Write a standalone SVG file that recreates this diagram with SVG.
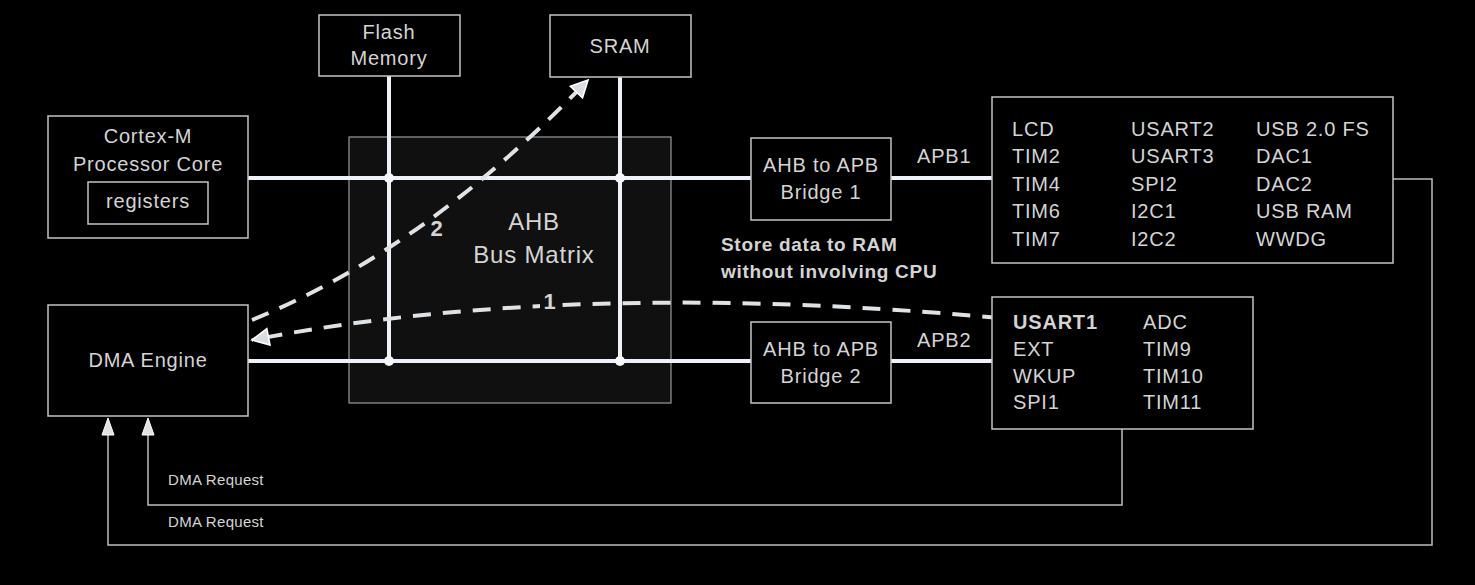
<svg xmlns="http://www.w3.org/2000/svg" width="1475" height="585" viewBox="0 0 1475 585">
<style>
.box{fill:#000;stroke:#c4c4c4;stroke-width:1.5}
.t{font-family:"Liberation Sans",Arial,sans-serif;fill:#d4d4d4;font-size:20px;letter-spacing:0.8px}
.c{text-anchor:middle}
.b{font-weight:bold}
.bus{stroke:#eef2f8;stroke-width:4;fill:none}
.thin{stroke:#bdbdbd;stroke-width:1.5;fill:none}
.dash{stroke:#dfe3e6;stroke-width:4;fill:none;stroke-dasharray:18 12}
.small{font-size:15px;letter-spacing:0.3px}
.head{fill:#e2e2e2;stroke:#ffffff;stroke-width:1}
</style>
<defs>
<marker id="hollow" viewBox="0 0 12 12" refX="11" refY="6" markerWidth="5" markerHeight="5" orient="auto" markerUnits="strokeWidth">
<path d="M1,1 L11,6 L1,11 Z" fill="#d8dde2" stroke="#ffffff" stroke-width="1"/>
</marker>
</defs>
<rect x="0" y="0" width="1475" height="585" fill="#000"/>

<g id="bus-matrix">
<rect x="349" y="137" width="322" height="266" fill="#101010" stroke="#9a9a9a" stroke-width="1.2"/>
<text class="t c" x="534" y="230" style="font-size:24px">AHB</text>
<text class="t c" x="534" y="263" style="font-size:24px">Bus Matrix</text>
</g>

<g id="connectors">
<line class="bus" x1="389" y1="76" x2="389" y2="361"/>
<line class="bus" x1="620" y1="77" x2="620" y2="361"/>
<line class="bus" x1="248" y1="178" x2="752" y2="178"/>
<line class="bus" x1="248" y1="361" x2="752" y2="361"/>
<line class="bus" x1="891" y1="178" x2="993" y2="178"/>
<line class="bus" x1="891" y1="361" x2="993" y2="361"/>
<circle cx="389" cy="178" r="5" fill="#f4f7fb"/>
<circle cx="620" cy="178" r="5" fill="#f4f7fb"/>
<circle cx="389" cy="361" r="5" fill="#f4f7fb"/>
<circle cx="620" cy="361" r="5" fill="#f4f7fb"/>
<path class="dash" d="M252,320 Q426,249 588,80" marker-end="url(#hollow)"/>
<path class="dash" d="M1000,318 C800,300 520,288 252,340" marker-end="url(#hollow)"/>
<circle cx="1003" cy="319" r="2" fill="#d8d8d8"/>
<polyline class="thin" points="1393,179 1432,179 1432,545 108,545 108,434"/>
<polyline class="thin" points="1122,429 1122,505 148,505 148,434"/>
<polygon class="head" points="108,418 102,435 114,435"/>
<polygon class="head" points="148,418 142,435 154,435"/>
<text class="t" x="917" y="163">APB1</text>
<text class="t" x="917" y="347">APB2</text>
<rect x="540" y="288" width="20" height="26" fill="#101010"/>
<text class="t c b" x="550" y="309" style="font-size:22px">1</text>
<text class="t c b" x="437" y="236" style="font-size:22px">2</text>
<text class="t b" x="721" y="251" style="font-size:19px;letter-spacing:0.7px">Store data to RAM</text>
<text class="t b" x="721" y="278" style="font-size:19px;letter-spacing:0.7px">without involving CPU</text>
<text class="t small" x="168" y="485">DMA Request</text>
<text class="t small" x="168" y="527">DMA Request</text>
</g>

<g id="flash">
<rect class="box" x="319" y="15" width="141" height="61"/>
<text class="t c" x="389" y="39">Flash</text>
<text class="t c" x="389" y="65">Memory</text>
</g>

<g id="sram">
<rect class="box" x="550" y="15" width="141" height="62"/>
<text class="t c" x="620" y="53">SRAM</text>
</g>

<g id="cortex">
<rect class="box" x="48" y="116" width="200" height="122"/>
<text class="t c" x="148" y="143">Cortex-M</text>
<text class="t c" x="148" y="171">Processor Core</text>
<rect class="box" x="88" y="182" width="120" height="42"/>
<text class="t c" x="148" y="208">registers</text>
</g>

<g id="dma">
<rect class="box" x="48" y="305" width="200" height="111"/>
<text class="t c" x="148" y="367">DMA Engine</text>
</g>

<g id="bridge1">
<rect class="box" x="751" y="138" width="140" height="82"/>
<text class="t c" x="821" y="172">AHB to APB</text>
<text class="t c" x="821" y="199">Bridge 1</text>
</g>

<g id="bridge2">
<rect class="box" x="751" y="322" width="140" height="81"/>
<text class="t c" x="821" y="356">AHB to APB</text>
<text class="t c" x="821" y="383">Bridge 2</text>
</g>

<g id="apb1-periph">
<rect class="box" x="992" y="97" width="401" height="166"/>
<text class="t" x="1012" y="136">LCD</text>
<text class="t" x="1012" y="163">TIM2</text>
<text class="t" x="1012" y="191">TIM4</text>
<text class="t" x="1012" y="218">TIM6</text>
<text class="t" x="1012" y="246">TIM7</text>
<text class="t" x="1131" y="136">USART2</text>
<text class="t" x="1131" y="163">USART3</text>
<text class="t" x="1131" y="191">SPI2</text>
<text class="t" x="1131" y="218">I2C1</text>
<text class="t" x="1131" y="246">I2C2</text>
<text class="t" x="1256" y="136">USB 2.0 FS</text>
<text class="t" x="1256" y="163">DAC1</text>
<text class="t" x="1256" y="191">DAC2</text>
<text class="t" x="1256" y="218">USB RAM</text>
<text class="t" x="1256" y="246">WWDG</text>
</g>

<g id="apb2-periph">
<rect class="box" x="992" y="297" width="261" height="132"/>
<text class="t b" x="1013" y="329">USART1</text>
<text class="t" x="1013" y="356">EXT</text>
<text class="t" x="1013" y="383">WKUP</text>
<text class="t" x="1013" y="409">SPI1</text>
<text class="t" x="1143" y="329">ADC</text>
<text class="t" x="1143" y="356">TIM9</text>
<text class="t" x="1143" y="383">TIM10</text>
<text class="t" x="1143" y="409">TIM11</text>
</g>
</svg>
